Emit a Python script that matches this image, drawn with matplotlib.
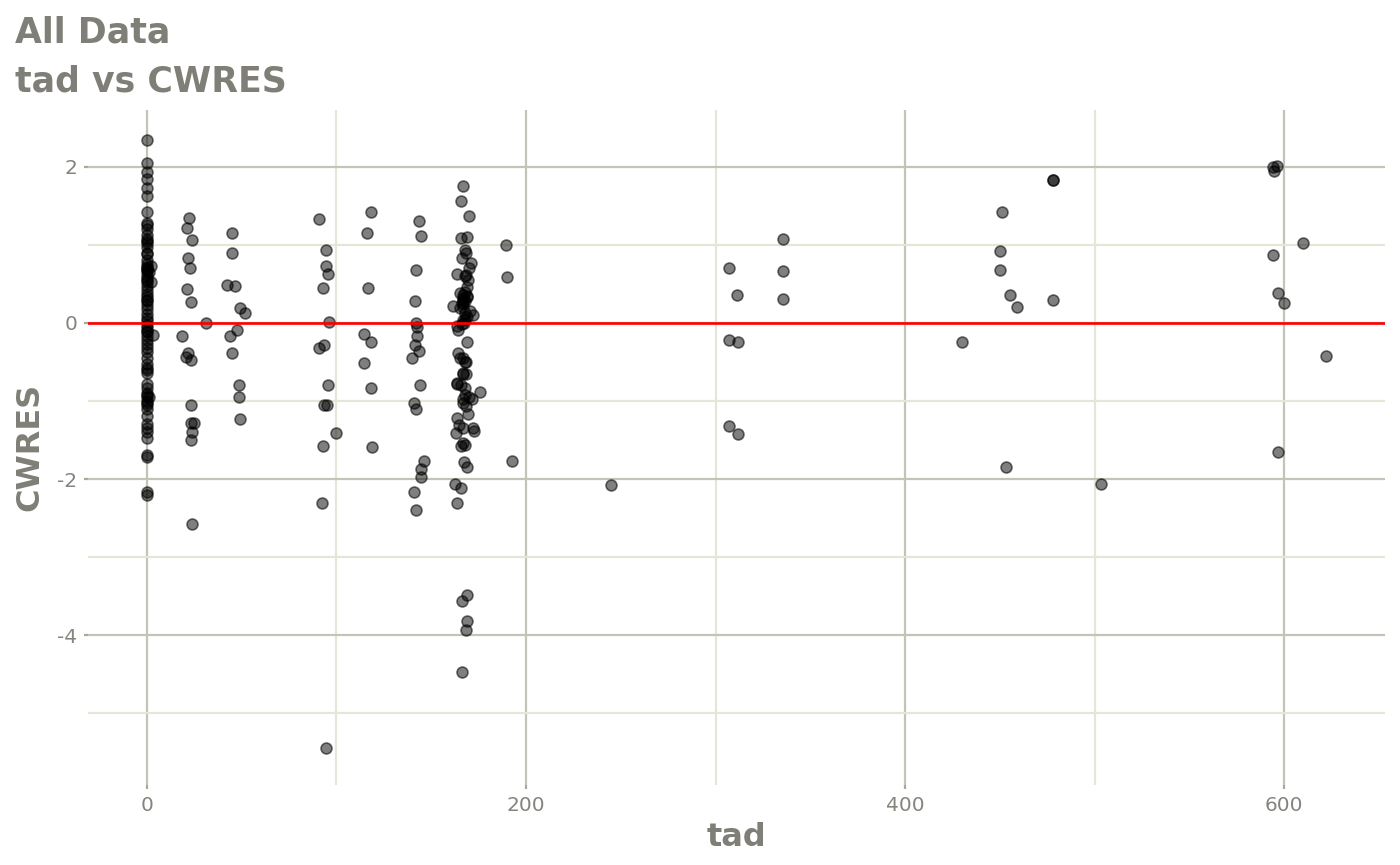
import numpy as np
import matplotlib.pyplot as plt

plt.rcParams['axes.unicode_minus'] = False

# tad = 0 column (plus a few at tad ~1-3)
tad0 = [0] * 70 + [2, 2, 3, 1, 1]
cw0 = [2.35, 2.05, 1.94, 1.84, 1.73, 1.62, 1.42, 1.28, 1.25, 1.2, 1.13, 1.07,
       1.02, 0.97, 0.88, 0.8, 0.76, 0.7, 0.66, 0.62, 0.57, 0.52, 0.47, 0.42,
       0.37, 0.33, 0.28, 0.23, 0.18, 0.12, 0.06, 0.02, -0.03, -0.07, -0.12,
       -0.17, -0.22, -0.27, -0.32, -0.37, -0.45, -0.52, -0.58, -0.64, -0.78,
       -0.84, -0.9, -0.95, -1.0, -1.05, -1.1, -1.19, -1.3, -1.35, -1.4, -1.47,
       -1.69, -1.72, -2.16, -2.2, 0.3, -0.6, 0.72, 0.68, 0.55, 0.9, 1.05,
       -0.92, -1.02, -0.1,
       0.73, 0.53, -0.15, 0.65, -0.95]

# tad ~ 18-52
tad1 = [18.5, 21, 22, 24, 21.6, 22.7, 21, 23, 20.6, 21.6, 23, 23, 23, 24.8,
        23.7, 23, 23.7, 31, 42, 45, 45, 46.5, 44, 45, 47.5, 49, 51.7, 48.5,
        48.5, 49]
cw1 = [-0.17, 1.22, 1.35, 1.06, 0.83, 0.7, 0.44, 0.27, -0.44, -0.38, -0.47,
       -1.05, -1.28, -1.28, -1.4, -1.5, -2.57, 0.0, 0.49, 1.15, 0.89, 0.47,
       -0.17, -0.38, -0.09, 0.19, 0.13, -0.79, -0.95, -1.23]

# tad ~ 90-146
tad2 = [91, 91, 93, 93.4, 94.5, 94.5, 95.5, 96, 93.4, 95, 95.5, 93, 92.4,
        94.5, 100, 118, 116, 116.5, 114.5, 118, 114.5, 118, 119, 143.6, 144.6,
        142, 141.5, 142, 142.5, 142.5, 141.5, 143.6, 140, 144, 141, 142, 146,
        144.6, 144.6, 141, 142]
cw2 = [1.33, -0.32, 0.45, -0.28, 0.94, 0.73, 0.63, 0.01, -1.05, -1.05, -0.8,
       -1.58, -2.31, -5.44, -1.41, 1.42, 1.15, 0.45, -0.14, -0.24, -0.51,
       -0.83, -1.59, 1.31, 1.12, 0.68, 0.28, 0.0, -0.05, -0.17, -0.28, -0.36,
       -0.45, -0.79, -1.03, -1.1, -1.77, -1.87, -1.98, -2.17, -2.4]

# tad ~ 161-176 (dense column)
tad3 = [166.8, 165.7, 170, 165.7, 169, 168, 168.4, 166, 171, 170, 163.6,
        168.4, 169, 166.8, 169, 161.5, 165, 168, 172, 166.8, 163.6, 164, 169,
        164, 165, 168, 166.8, 163.6, 168.4, 163.6, 168, 166.8, 171.5, 175.8,
        168.4, 169.4, 163.6, 164.7, 163, 166.8, 172, 172.6, 166.8, 165.7, 168,
        167.3, 169, 162.6, 165.7, 163.6, 169, 166.3, 169, 168.4, 166.3,
        166.5, 168, 169, 167, 165, 168, 167.5, 166, 169, 170.5, 167, 168,
        166, 169.5, 167, 168.5, 167, 165.5, 168, 170, 167, 168, 166.5]
cw3 = [1.76, 1.56, 1.37, 1.09, 1.1, 0.94, 0.9, 0.83, 0.77, 0.71, 0.63, 0.62,
       0.46, 0.36, 0.33, 0.22, 0.19, 0.13, 0.1, 0.04, -0.04, -0.09, -0.24,
       -0.38, -0.45, -0.5, -0.64, -0.77, -0.65, -0.78, -0.92, -0.97, -0.97,
       -0.88, -1.07, -1.17, -1.22, -1.31, -1.41, -1.34, -1.34, -1.39, -1.54,
       -1.58, -1.56, -1.78, -1.84, -2.06, -2.12, -2.31, -3.49, -3.56, -3.82,
       -3.94, -4.47, 0.3, 0.28, 0.35, 0.25, 0.38, 0.05, 0.0, -0.02, 0.08,
       0.15, 0.32, 0.4, 0.26, 0.55, -0.45, -0.5, -0.65, -0.8, -0.83, -0.95,
       -1.03, 0.6, 0.2]

# tad > 185
tad4 = [189.5, 190, 192.7, 245, 307, 307, 311.4, 312, 307, 312, 335.7, 335.7,
        335.7, 430, 451, 450, 450, 455.5, 459, 453.4, 478, 478, 478, 503.5,
        594, 596, 594.7, 594, 596.6, 600, 610, 597, 622]
cw4 = [1.0, 0.59, -1.77, -2.08, 0.71, -0.22, 0.36, -0.25, -1.32, -1.42, 1.08,
       0.67, 0.31, -0.24, 1.42, 0.92, 0.68, 0.36, 0.2, -1.85, 1.83, 1.83, 0.3,
       -2.06, 2.0, 2.01, 1.95, 0.87, 0.38, 0.26, 1.02, -1.65, -0.42]

tad = np.array(tad0 + tad1 + tad2 + tad3 + tad4)
cwres = np.array(cw0 + cw1 + cw2 + cw3 + cw4)

txt = '#7f7f77'
fig = plt.figure(figsize=(14, 8.65), dpi=100)
ax = fig.add_axes([0.063, 0.0925, 0.926, 0.7805])

ax.scatter(tad, cwres, s=62, facecolor=(0, 0, 0, 0.5), edgecolor=(0, 0, 0, 0.55),
           linewidth=1.2, zorder=3)
ax.axhline(0, color='red', lw=1.9, zorder=4)

ax.set_xlim(-31, 653)
ax.set_ylim(-5.92, 2.73)
ax.set_xticks([0, 200, 400, 600])
ax.set_xticks([100, 300, 500], minor=True)
ax.set_yticks([-4, -2, 0, 2])
ax.set_yticks([-5, -3, -1, 1], minor=True)
ax.grid(which='major', color='#c3c3b7', lw=1.6, zorder=0)
ax.grid(which='minor', color='#e5e5d8', lw=1.6, zorder=0)
ax.set_axisbelow(True)
for sp in ax.spines.values():
    sp.set_visible(False)
ax.tick_params(which='major', length=3, width=1.6, color='#a8a89c',
               labelsize=14.5, labelcolor='#85857f', pad=5)
ax.tick_params(which='minor', length=0)

ax.set_xlabel('tad', fontsize=23, fontweight='bold', color=txt, labelpad=5)
ax.set_ylabel('CWRES', fontsize=23, fontweight='bold', color=txt, labelpad=8)
fig.text(0.011, 0.962, 'All Data', fontsize=25, fontweight='bold', color=txt,
         va='center', ha='left')
fig.text(0.011, 0.906, 'tad vs CWRES', fontsize=25, fontweight='bold', color=txt,
         va='center', ha='left')

plt.savefig('out.png', dpi=100)
plt.close()
